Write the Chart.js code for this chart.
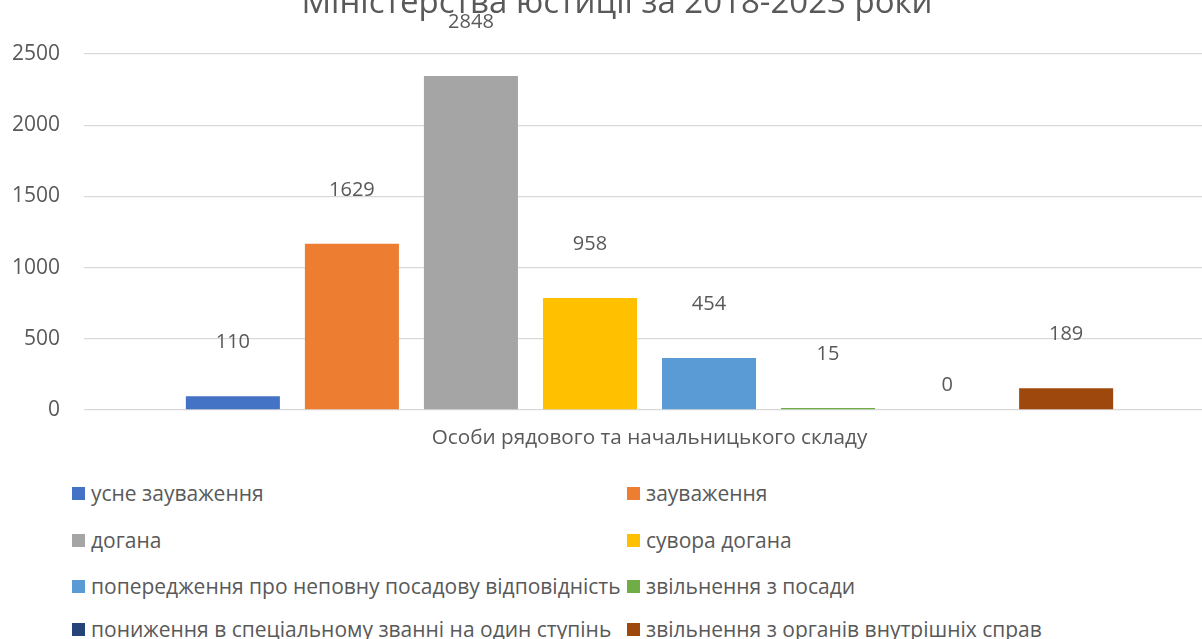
<!DOCTYPE html>
<html>
<head>
<meta charset="utf-8">
<script src="https://cdn.jsdelivr.net/npm/chart.js@4.4.1/dist/chart.umd.min.js"></script>
<style>
html, body { margin: 0; padding: 0; background: #fff; }
#wrap { position: relative; width: 1202px; height: 639px; overflow: hidden; font-family: "Open Sans", sans-serif; color: #595959; }
#box { position: absolute; left: 0; top: 0; width: 1215px; height: 460px; }
#title { position: absolute; left: 0; width: 1234px; top: -19px; text-align: center; font-size: 33px; line-height: 40px; white-space: nowrap; }
.item { position: absolute; display: flex; align-items: center; font-size: 21px; line-height: 26px; white-space: nowrap; }
.item .sw { display: inline-block; width: 13px; height: 13px; margin-right: 6px; }
</style>
</head>
<body>
<div id="wrap">
  <div id="box"><canvas id="chart"></canvas></div>
  <div id="title"></div>
  <div id="legend"></div>
</div>
<script>
var titleText = "Міністерства юстиції за 2018-2023 роки";
var categories = ["Особи рядового та начальницького складу"];
var seriesNames = [
    "усне зауваження",
    "зауваження",
    "догана",
    "сувора догана",
    "попередження про неповну посадову відповідність",
    "звільнення з посади",
    "пониження в спеціальному званні на один ступінь",
    "звільнення з органів внутрішніх справ"
];
// bar heights as drawn on the picture
var barValues = [97, 1167, 2346, 787, 365, 14, 0, 153];
// numbers written above the bars
var labelValues = [110, 1629, 2848, 958, 454, 15, 0, 189];
var colors = ["#4472C4", "#ED7D31", "#A5A5A5", "#FFC000", "#5B9BD5", "#70AD47", "#264478", "#9E480E"];
var yTicks = [0, 500, 1000, 1500, 2000, 2500];

var textColor = "#595959";
var font = "'Open Sans', sans-serif";

document.getElementById("title").textContent = titleText;

var datasets = [];
for (var i in seriesNames) {
    datasets.push({
        label: seriesNames[i],
        data: [barValues[i]],
        backgroundColor: colors[i],
        borderWidth: 0,
        categoryPercentage: 0.842,
        barPercentage: 0.79
    });
}

//labels above bars
var barLabels = {
    id: "barLabels",
    afterDatasetsDraw: function(chart) {
        var ctx = chart.ctx;
        ctx.save();
        ctx.fillStyle = textColor;
        ctx.font = "20px " + font;
        ctx.textAlign = "center";
        ctx.textBaseline = "middle";
        chart.data.datasets.forEach(function(ds, i) {
            var bar = chart.getDatasetMeta(i).data[0];
            var off = labelValues[i] > 0 ? 54 : 25;
            ctx.fillText(String(labelValues[i]), bar.x, bar.y - off);
        });
        ctx.restore();
    }
};

var chart = new Chart(document.getElementById("chart"), {
    type: "bar",
    data: { labels: categories, datasets: datasets },
    options: {
        responsive: true,
        maintainAspectRatio: false,
        animation: false,
        layout: { padding: { left: 0, right: 0, top: 54, bottom: 0 } },
        plugins: {
            legend: { display: false },
            tooltip: { enabled: false }
        },
        scales: {
            x: {
                grid: { display: false, drawTicks: false },
                border: { display: false },
                ticks: { color: textColor, font: { family: font, size: 20.7 }, padding: 16, maxRotation: 0 },
                afterFit: function(s) { s.height = 50; }
            },
            y: {
                min: 0,
                max: 2500,
                afterBuildTicks: function(s) { s.ticks = yTicks.map(function(v) { return { value: v }; }); },
                grid: { color: "#d9d9d9", lineWidth: 1.3, drawTicks: false },
                border: { display: false },
                ticks: {
                    color: textColor,
                    font: { family: font, size: 21 },
                    padding: 24,
                    callback: function(v) { return String(v); }
                },
                afterFit: function(s) { s.width = 84; }
            }
        }
    },
    plugins: [barLabels]
});

// legend in two columns
var legend = document.getElementById("legend");
var colX = [72, 627];
var rowY = [493, 540, 586, 629];
seriesNames.forEach(function(name, i) {
    var d = document.createElement("div");
    d.className = "item";
    d.style.left = colX[i % 2] + "px";
    d.style.top = (rowY[Math.floor(i / 2)] - 13) + "px";
    var sw = document.createElement("span");
    sw.className = "sw";
    sw.style.background = colors[i];
    d.appendChild(sw);
    d.appendChild(document.createTextNode(name));
    legend.appendChild(d);
});
</script>
</body>
</html>
